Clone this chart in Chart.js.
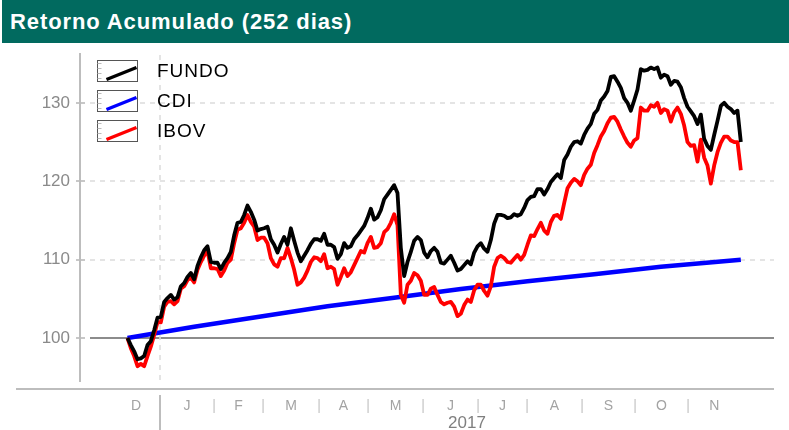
<!DOCTYPE html>
<html>
<head>
<meta charset="utf-8">
<script src="https://cdn.jsdelivr.net/npm/chart.js@4.4.0/dist/chart.umd.min.js"></script>
<style>
    html, body { margin: 0; padding: 0; background: #fff; }
    #title {
        position: absolute; left: 2px; top: 0; width: 787px; height: 43px;
        background: #016a5f; color: #fff; box-sizing: border-box; padding-left: 8px;
        font: bold 22px "Liberation Sans", Arial, sans-serif; letter-spacing: 0.9px; line-height: 43px;
    }
    #wrap { position: absolute; left: 0; top: 43px; width: 789px; height: 387px; }
</style>
</head>
<body>
<div id="title">Retorno Acumulado (252 dias)</div>
<div id="wrap"><canvas id="chart" width="789" height="387"></canvas></div>
<script>
// cumulative return index, sampled every ~1.35 trading days
var fundo = [
    100.0, 99.1, 98.3, 97.3, 97.4, 97.7, 99.1, 99.6, 101.0, 102.6,
    102.7, 104.6, 105.1, 105.5, 104.9, 105.2, 106.6, 107.0, 107.8, 108.3,
    107.5, 109.2, 110.3, 111.2, 111.7, 109.7, 109.6, 109.6, 108.8, 109.6,
    110.2, 111.0, 113.1, 114.7, 114.8, 115.7, 116.9, 116.1, 115.1, 113.7,
    113.9, 114.0, 114.2, 112.6, 111.9, 110.9, 112.0, 112.9, 111.9, 114.0,
    112.4, 110.9, 109.8, 110.5, 111.2, 112.0, 112.6, 112.6, 112.4, 113.3,
    111.9, 111.9, 111.6, 110.1, 110.7, 112.1, 111.5, 111.7, 112.6, 113.1,
    113.7, 114.3, 115.3, 116.5, 115.1, 115.4, 116.3, 117.7, 118.3, 118.9,
    119.5, 118.5, 111.5, 107.9, 109.7, 111.0, 112.4, 112.9, 112.5, 110.9,
    110.3, 111.1, 111.5, 111.0, 109.6, 109.5, 110.0, 110.5, 109.6, 108.6,
    108.8, 109.3, 109.8, 109.4, 110.9, 111.7, 112.1, 111.4, 111.0, 112.5,
    114.6, 115.7, 115.7, 115.6, 115.3, 115.4, 115.8, 115.6, 115.8, 116.6,
    117.6, 118.0, 118.1, 119.0, 119.0, 118.3, 119.0, 119.9, 120.4, 120.9,
    120.4, 122.7, 123.4, 124.4, 125.0, 125.1, 124.8, 125.9, 126.7, 127.3,
    128.6, 129.1, 130.3, 130.8, 131.5, 133.3, 133.4, 132.7, 131.9, 130.6,
    130.0, 129.0, 130.3, 131.7, 134.3, 134.1, 134.2, 134.5, 134.3, 134.5,
    133.2, 133.6, 133.4, 132.3, 132.8, 132.7, 132.0, 130.6, 129.5, 128.9,
    128.3, 127.3, 128.5, 125.4, 124.5, 124.0, 125.9, 127.7, 129.6, 130.0,
    129.5, 129.2, 128.7, 129.0, 125.0
];
var ibov = [
    100.0, 98.7, 97.7, 96.4, 96.7, 96.4, 97.7, 98.9, 100.4, 102.0,
    102.0, 104.0, 104.6, 104.7, 104.3, 104.7, 106.3, 106.6, 107.4, 107.7,
    107.1, 108.7, 109.7, 110.5, 111.1, 108.9, 108.9, 108.8, 107.9, 108.6,
    109.6, 110.0, 112.1, 113.8, 114.0, 114.7, 115.7, 114.8, 114.2, 112.5,
    112.8, 112.8, 112.1, 110.2, 109.4, 109.1, 110.2, 110.2, 111.5, 110.2,
    108.7, 106.8, 107.1, 107.7, 108.6, 109.7, 110.3, 110.2, 109.8, 110.7,
    108.9, 109.1, 108.8, 106.8, 107.8, 108.9, 107.9, 108.4, 109.3, 110.2,
    111.1, 110.9, 112.1, 112.9, 111.5, 111.6, 112.1, 113.5, 113.9, 114.7,
    115.8, 114.4, 105.5, 104.5, 106.8, 107.3, 108.3, 108.0, 107.3, 105.5,
    105.5, 106.3, 106.5, 105.5, 104.6, 104.3, 104.5, 104.6, 104.0, 102.8,
    103.1, 104.2, 104.9, 104.6, 106.1, 106.8, 106.8, 106.0, 105.4, 106.6,
    109.1, 110.2, 110.5, 110.2, 109.7, 109.6, 110.1, 110.6, 110.0, 110.6,
    111.9, 113.1, 113.0, 113.9, 114.7, 113.7, 113.3, 114.8, 115.6, 115.7,
    115.2, 117.2, 119.1, 119.8, 120.3, 120.0, 119.5, 120.8, 121.6, 122.1,
    123.6, 124.6, 125.7, 126.4, 127.4, 128.1, 128.2, 127.6, 126.6, 125.7,
    124.9, 124.4, 125.2, 125.5, 129.4, 129.0, 129.0, 129.7, 129.5, 130.0,
    128.7, 129.2, 129.0, 127.6, 128.8, 129.4, 128.6, 127.1, 125.0, 124.5,
    124.6, 122.5, 125.3, 123.0, 122.0, 119.7, 122.0, 123.7, 124.9, 125.7,
    125.7, 125.2, 125.0, 125.0, 121.4
];
// CDI only read at a few sample positions
var cdiIndex = [0, 20, 40, 60, 80, 100, 120, 140, 160, 184];
var cdi = [100.0, 101.45, 102.75, 104.05, 105.15, 106.25, 107.25, 108.15, 109.1, 110.0];

var seriesNames = ['FUNDO', 'CDI', 'IBOV'];
var seriesColors = ['#000000', '#0000ff', '#ff0000'];

var months = ['D', 'J', 'F', 'M', 'A', 'M', 'J', 'J', 'A', 'S', 'O', 'N'];
// month start positions in sample units (last entry = end of November)
var monthEdges = [-4.6, 9.75, 25.95, 40.65, 57.45, 72.15, 88.65, 105.15, 119.85, 136.35, 152.25, 168.15, 184.0];
var yearLabel = '2017';
var yTicks = [100, 110, 120, 130];

var FONT = "'Liberation Sans', Arial, sans-serif";
Chart.defaults.font.family = FONT;

function toPoints(values, idx) {
    return values.map(function (v, i) { return { x: idx ? idx[i] : i, y: v }; });
}

// x ticks: month letters at mid-month, "|" at month boundaries
var xTicks = [];
months.forEach(function (m, i) {
    if (i >= 2) xTicks.push({ value: monthEdges[i], text: '|' });
    xTicks.push({ value: (monthEdges[i] + monthEdges[i + 1]) / 2, text: m });
});

var frame = {
    id: 'frame',
    beforeDatasetsDraw: function (chart) {
        var ctx = chart.ctx, a = chart.chartArea, xs = chart.scales.x, ys = chart.scales.y;
        ctx.save();
        yTicks.forEach(function (v) {
            var py = Math.round(ys.getPixelForValue(v));
            ctx.beginPath();
            if (v === 100) {
                ctx.setLineDash([]); ctx.strokeStyle = '#8c8c8c'; ctx.lineWidth = 2;
            } else {
                ctx.setLineDash([5, 5]); ctx.strokeStyle = '#dcdcdc'; ctx.lineWidth = 1.5;
            }
            ctx.moveTo(a.left + 10, py); ctx.lineTo(a.right, py); ctx.stroke();
            ctx.setLineDash([]); ctx.strokeStyle = '#b4b4b4'; ctx.lineWidth = 1.5;
            ctx.beginPath(); ctx.moveTo(a.left - 4, py); ctx.lineTo(a.left + 5, py); ctx.stroke();
        });
        // year boundary
        var yx = Math.round(xs.getPixelForValue(monthEdges[1]));
        ctx.setLineDash([5, 5]); ctx.strokeStyle = '#dcdcdc'; ctx.lineWidth = 1.5;
        ctx.beginPath(); ctx.moveTo(yx, a.top); ctx.lineTo(yx, a.bottom - 7); ctx.stroke();
        ctx.setLineDash([]);
        ctx.strokeStyle = '#bdbdbd'; ctx.lineWidth = 2;
        ctx.beginPath(); ctx.moveTo(yx, a.bottom + 6); ctx.lineTo(yx, chart.height); ctx.stroke();
        // axis lines
        ctx.beginPath(); ctx.moveTo(a.left, a.top - 2); ctx.lineTo(a.left, a.bottom - 7); ctx.stroke();
        ctx.beginPath(); ctx.moveTo(16, a.bottom); ctx.lineTo(a.right, a.bottom); ctx.stroke();
        // year label
        ctx.fillStyle = '#7f7f7f';
        ctx.font = '17px ' + FONT;
        ctx.textAlign = 'center'; ctx.textBaseline = 'middle';
        ctx.fillText(yearLabel, (yx + a.right) / 2, chart.height - 7);
        ctx.restore();
    },
    afterDraw: function (chart) {
        var ctx = chart.ctx, a = chart.chartArea;
        ctx.save();
        seriesNames.forEach(function (name, i) {
            var bx = a.left + 17.5, by = a.top + 5.5 + i * 30, bw = 40, bh = 21;
            ctx.fillStyle = '#fff';
            ctx.fillRect(bx, by, bw, bh);
            ctx.strokeStyle = '#555'; ctx.lineWidth = 1;
            ctx.strokeRect(bx, by, bw, bh);
            ctx.strokeStyle = '#bbb';
            [3, 8, 13, 18].forEach(function (t) {
                ctx.beginPath(); ctx.moveTo(bx, by + t); ctx.lineTo(bx + 4, by + t); ctx.stroke();
            });
            ctx.strokeStyle = seriesColors[i]; ctx.lineWidth = 3.5;
            ctx.beginPath(); ctx.moveTo(bx + 9, by + bh - 2); ctx.lineTo(bx + bw - 1, by + 7); ctx.stroke();
            ctx.fillStyle = '#000';
            ctx.font = '19px ' + FONT;
            ctx.letterSpacing = '1px';
            ctx.textAlign = 'left'; ctx.textBaseline = 'middle';
            ctx.fillText(name, a.left + 77, by + bh / 2 + 1);
        });
        ctx.restore();
    }
};

new Chart(document.getElementById('chart'), {
    type: 'line',
    data: {
        datasets: [
            { label: 'FUNDO', data: toPoints(fundo), borderColor: '#000000', borderWidth: 3.8, order: 0 },
            { label: 'IBOV', data: toPoints(ibov), borderColor: '#ff0000', borderWidth: 3.8, order: 1 },
            { label: 'CDI', data: toPoints(cdi, cdiIndex), borderColor: '#0000ff', borderWidth: 4.5, order: 2 }
        ]
    },
    options: {
        responsive: false,
        animation: false,
        layout: { padding: { top: 12, right: 15, left: 0, bottom: 0 } },
        elements: {
            point: { radius: 0 },
            line: { tension: 0, borderJoinStyle: 'round', fill: false }
        },
        plugins: { legend: { display: false }, tooltip: { enabled: false } },
        scales: {
            x: {
                type: 'linear',
                min: -14.25,
                max: 193.95,
                grid: { display: false, drawTicks: false },
                border: { display: false },
                afterBuildTicks: function (s) {
                    s.ticks = xTicks.map(function (t) { return { value: t.value }; });
                },
                afterFit: function (s) {
                    s.height = 41;
                    s.paddingLeft = 0; s.paddingRight = 0;
                },
                ticks: {
                    autoSkip: false, maxRotation: 0, minRotation: 0, padding: 9,
                    font: { size: 14 },
                    color: function (c) { return c.tick && c.tick.label === '|' ? '#c4c4c4' : '#a3a3a3'; },
                    callback: function (v, i) { return xTicks[i] ? xTicks[i].text : ''; }
                }
            },
            y: {
                min: 93.5,
                max: 136.1,
                grid: { display: false, drawTicks: false },
                border: { display: false },
                afterBuildTicks: function (s) {
                    s.ticks = yTicks.map(function (v) { return { value: v }; });
                },
                afterFit: function (s) {
                    s.width = 80;
                    s.paddingTop = 0; s.paddingBottom = 0;
                },
                ticks: { padding: 10, font: { size: 17 }, color: '#8a8a8a' }
            }
        }
    },
    plugins: [frame]
});
</script>
</body>
</html>
